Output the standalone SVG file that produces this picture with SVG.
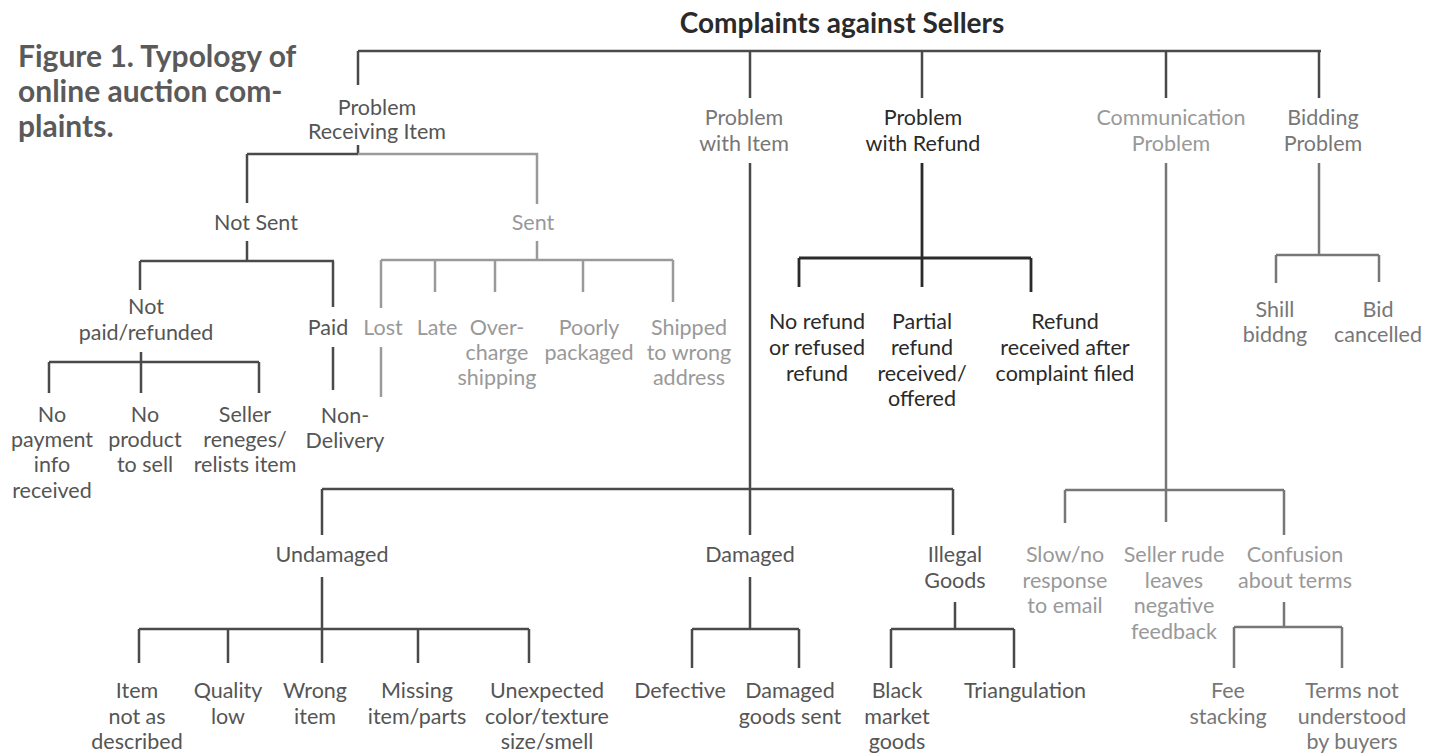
<svg xmlns="http://www.w3.org/2000/svg" width="1431" height="756" viewBox="0 0 1431 756">
<style>
text{font-family:Lato,"Liberation Sans",sans-serif;font-size:21.5px;text-anchor:middle}
.d{fill:#2a2a2a}.m{fill:#555}.g{fill:#999}.g2{fill:#777}
.cap{text-anchor:start;font-size:30px;font-weight:bold;fill:#5a5a5a}
.ld{stroke:#2a2a2a;stroke-width:2.8;fill:none}
.lm{stroke:#4a4a4a;stroke-width:2.5;fill:none}
.lg{stroke:#9a9a9a;stroke-width:2.5;fill:none}
.lg2{stroke:#777;stroke-width:2.5;fill:none}
</style>
<rect width="1431" height="756" fill="#fff"/>
<g id="caption">
<text x="18" y="67" class="cap">Figure 1. Typology of</text>
<text x="18" y="102" class="cap">online auction com-</text>
<text x="18" y="137" class="cap">plaints.</text>
</g>
<g id="connectors">
<path class="lm" d="M358,51H1321M358,51V85M750,51V98M922,51V98M1166,51V98M1319,51V98"/>
<path class="lm" d="M358,145V154M247,154H358M247,154V203"/>
<path class="lg" d="M358,154H537V204"/>
<path class="lm" d="M247,241V261M140,261H334M140,261V290M333,261V307M333,347V390"/>
<path class="lm" d="M141,352V362M49,362H259M49,362V393M141,362V393M259,362V393"/>
<path class="lg" d="M537,241V260M381,260H673M381,260V308M435,260V292M495,260V292M583,260V292M673,260V302M381,347V397"/>
<path class="lm" d="M750,163V489M322,489H953M322,489V535M750,489V535M953,489V535"/>
<path class="ld" d="M922,163V258M799,258H1031M799,258V287M922,258V287M1031,258V292"/>
<path class="lg2" d="M1166,163V490M1065,490H1284M1065,490V523M1166,490V522M1284,490V535"/>
<path class="lg2" d="M1319,163V255M1276,255H1379M1276,255V283M1379,255V282"/>
<path class="lm" d="M322,577V629M139,629H529M139,629V663M228,629V663M322,629V663M418,629V663M529,629V663"/>
<path class="lm" d="M750,577V629M692,629H799M692,629V668M799,629V668"/>
<path class="lm" d="M955,602V629M891,629H1014M891,629V668M1014,629V668"/>
<path class="lg2" d="M1284,602V627M1234,627H1342M1234,627V668M1342,627V668"/>
</g>
<g id="root"><text x="842" y="33" class="d" style="font-size:28px;font-weight:bold">Complaints against Sellers</text></g>
<g id="problem-receiving"><text x="377" y="115" class="m">Problem</text><text x="377" y="139" class="m">Receiving Item</text></g>
<g id="problem-item"><text x="744" y="125" class="g2">Problem</text><text x="744" y="151" class="g2">with Item</text></g>
<g id="problem-refund"><text x="923" y="125" class="d">Problem</text><text x="923" y="151" class="d">with Refund</text></g>
<g id="communication"><text x="1171" y="125" class="g">Communication</text><text x="1171" y="151" class="g">Problem</text></g>
<g id="bidding"><text x="1323" y="125" class="g2">Bidding</text><text x="1323" y="151" class="g2">Problem</text></g>
<g id="not-sent"><text x="256" y="230" class="m">Not Sent</text></g>
<g id="sent"><text x="533" y="230" class="g">Sent</text></g>
<g id="not-paid"><text x="146" y="314" class="m">Not</text><text x="146" y="340" class="m">paid/refunded</text></g>
<g id="paid"><text x="328" y="335" class="m">Paid</text></g>
<g id="non-delivery"><text x="345" y="423" class="m">Non-</text><text x="345" y="448" class="m">Delivery</text></g>
<g id="no-payment"><text x="52" y="422" class="m">No</text><text x="52" y="447" class="m">payment</text><text x="52" y="472" class="m">info</text><text x="52" y="498" class="m">received</text></g>
<g id="no-product"><text x="145" y="422" class="m">No</text><text x="145" y="447" class="m">product</text><text x="145" y="472" class="m">to sell</text></g>
<g id="seller-reneges"><text x="245" y="422" class="m">Seller</text><text x="245" y="447" class="m">reneges/</text><text x="245" y="472" class="m">relists item</text></g>
<g id="lost"><text x="383" y="335" class="g">Lost</text></g>
<g id="late"><text x="437" y="335" class="g">Late</text></g>
<g id="overcharge"><text x="497" y="335" class="g">Over-</text><text x="497" y="360" class="g">charge</text><text x="497" y="385" class="g">shipping</text></g>
<g id="poorly"><text x="589" y="335" class="g">Poorly</text><text x="589" y="360" class="g">packaged</text></g>
<g id="shipped-wrong"><text x="689" y="335" class="g">Shipped</text><text x="689" y="360" class="g">to wrong</text><text x="689" y="385" class="g">address</text></g>
<g id="no-refund"><text x="817" y="329" class="d">No refund</text><text x="817" y="355" class="d">or refused</text><text x="817" y="381" class="d">refund</text></g>
<g id="partial-refund"><text x="922" y="329" class="d">Partial</text><text x="922" y="355" class="d">refund</text><text x="922" y="381" class="d">received/</text><text x="922" y="406" class="d">offered</text></g>
<g id="refund-after"><text x="1065" y="329" class="d">Refund</text><text x="1065" y="355" class="d">received after</text><text x="1065" y="381" class="d">complaint filed</text></g>
<g id="shill"><text x="1275" y="317" class="g2">Shill</text><text x="1275" y="342" class="g2">biddng</text></g>
<g id="bid-cancelled"><text x="1378" y="317" class="g2">Bid</text><text x="1378" y="342" class="g2">cancelled</text></g>
<g id="undamaged"><text x="332" y="562" class="m">Undamaged</text></g>
<g id="damaged"><text x="750" y="562" class="m">Damaged</text></g>
<g id="illegal"><text x="955" y="562" class="m">Illegal</text><text x="955" y="588" class="m">Goods</text></g>
<g id="slow"><text x="1065" y="562" class="g">Slow/no</text><text x="1065" y="588" class="g">response</text><text x="1065" y="613" class="g">to email</text></g>
<g id="rude"><text x="1174" y="562" class="g">Seller rude</text><text x="1174" y="588" class="g">leaves</text><text x="1174" y="613" class="g">negative</text><text x="1174" y="639" class="g">feedback</text></g>
<g id="confusion"><text x="1295" y="562" class="g">Confusion</text><text x="1295" y="588" class="g">about terms</text></g>
<g id="not-described"><text x="137" y="698" class="m">Item</text><text x="137" y="724" class="m">not as</text><text x="137" y="749" class="m">described</text></g>
<g id="quality"><text x="228" y="698" class="m">Quality</text><text x="228" y="724" class="m">low</text></g>
<g id="wrong-item"><text x="315" y="698" class="m">Wrong</text><text x="315" y="724" class="m">item</text></g>
<g id="missing"><text x="417" y="698" class="m">Missing</text><text x="417" y="724" class="m">item/parts</text></g>
<g id="unexpected"><text x="547" y="698" class="m">Unexpected</text><text x="547" y="724" class="m">color/texture</text><text x="547" y="749" class="m">size/smell</text></g>
<g id="defective"><text x="680" y="698" class="m">Defective</text></g>
<g id="damaged-sent"><text x="790" y="698" class="m">Damaged</text><text x="790" y="724" class="m">goods sent</text></g>
<g id="black-market"><text x="897" y="698" class="m">Black</text><text x="897" y="724" class="m">market</text><text x="897" y="749" class="m">goods</text></g>
<g id="triangulation"><text x="1025" y="698" class="m">Triangulation</text></g>
<g id="fee-stacking"><text x="1228" y="698" class="g2">Fee</text><text x="1228" y="724" class="g2">stacking</text></g>
<g id="terms"><text x="1352" y="698" class="g2">Terms not</text><text x="1352" y="724" class="g2">understood</text><text x="1352" y="749" class="g2">by buyers</text></g>
</svg>
